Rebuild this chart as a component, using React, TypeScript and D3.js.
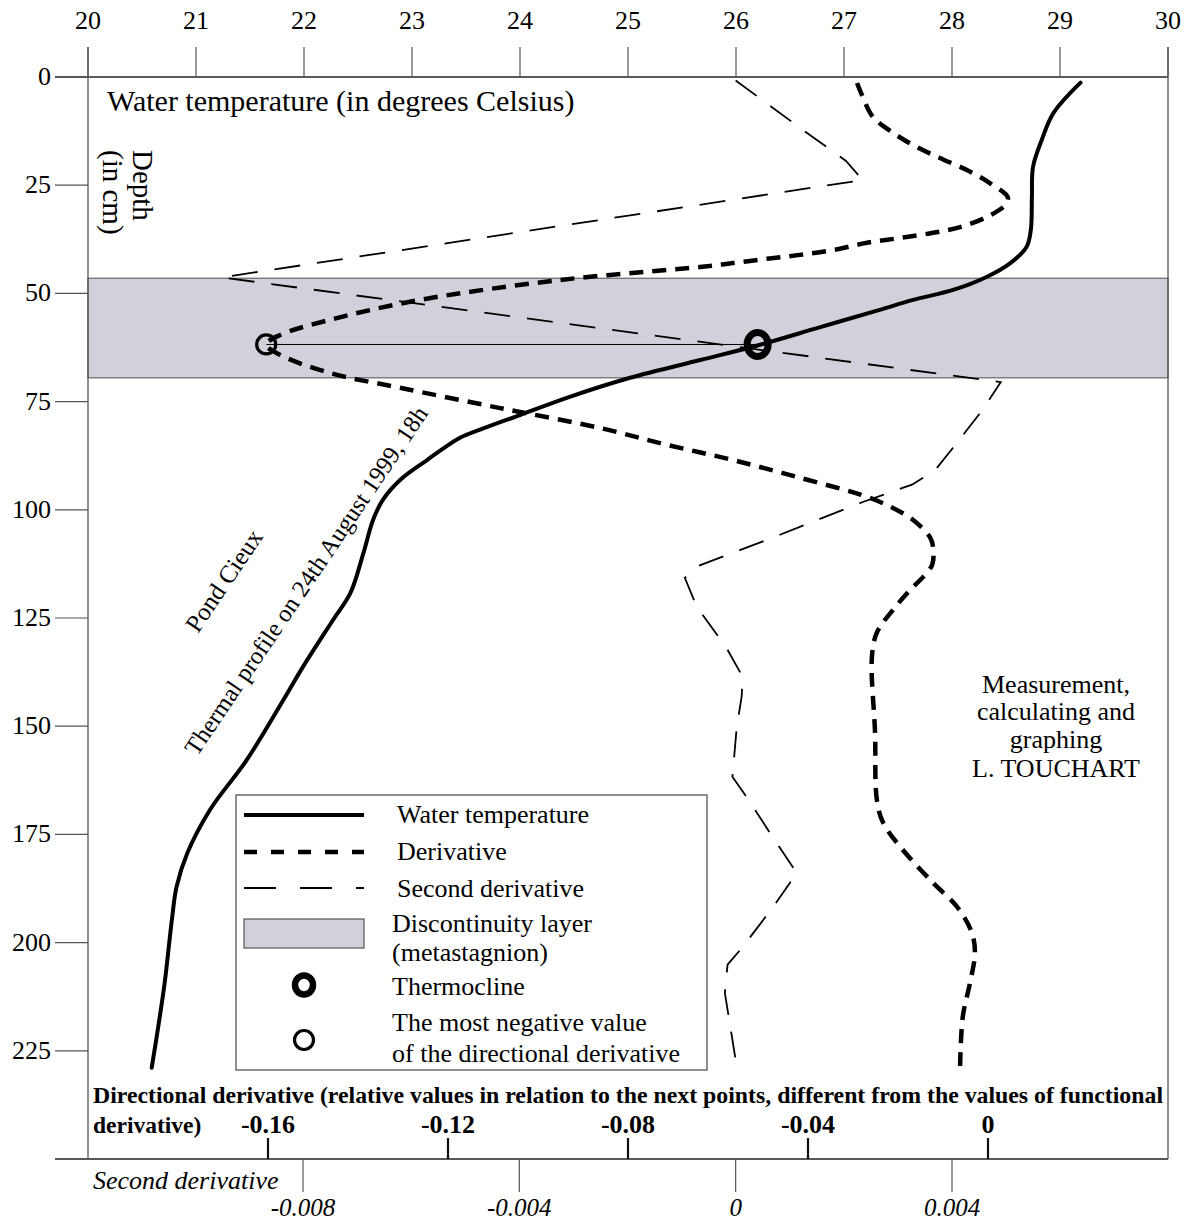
import React from "react";
import * as d3 from "d3";

// axis ticks
const tempTicks = [20, 21, 22, 23, 24, 25, 26, 27, 28, 29, 30];
const depthTicks = [0, 25, 50, 75, 100, 125, 150, 175, 200, 225];
const derivTicks = [-0.16, -0.12, -0.08, -0.04, 0];
const derivTickLabels = ["-0.16", "-0.12", "-0.08", "-0.04", "0"];
const secTicks = [-0.008, -0.004, 0, 0.004];
const secTickLabels = ["-0.008", "-0.004", "0", "0.004"];

// water temperature profile (depth in cm, degrees C)
const tempDepth = [1.3, 8.3, 14.6, 20.8, 27.7, 35.3, 39.3, 43, 46.2, 49.2, 51.5, 53.8, 57.8, 62.1, 65.4, 69.5, 73.9, 78.1, 81.5, 83.4, 88.5, 93.1, 97.7, 102.3, 110, 119.2, 125.4, 136.3, 143.9, 157.8, 169.3, 179.3, 187.1, 194, 209.3, 219.5, 228.9];
const tempValue = [29.19, 28.94, 28.83, 28.75, 28.74, 28.73, 28.69, 28.54, 28.32, 28.01, 27.64, 27.33, 26.78, 26.19, 25.67, 25.02, 24.46, 24.0, 23.63, 23.44, 23.14, 22.89, 22.73, 22.64, 22.55, 22.43, 22.27, 21.99, 21.81, 21.47, 21.13, 20.92, 20.82, 20.78, 20.71, 20.65, 20.59];

// directional derivative
const derivDepth = [1.4, 4.2, 9.2, 12.9, 16.2, 18.7, 21.5, 24.5, 27.8, 29.6, 32.3, 34.7, 36, 37.2, 38.3, 40, 41.1, 42, 43, 43.9, 46.9, 51.5, 56.1, 59.6, 61.8, 64.2, 68.4, 71.8, 76.5, 81.1, 85, 88.5, 92.6, 97, 99.6, 102.3, 106.3, 108.6, 112.7, 115.5, 118.5, 123.1, 128.4, 134, 151.5, 167, 172.3, 178.6, 186.2, 191.7, 197.7, 202.4, 209.3, 217.1, 228.5];
const derivValue = [-0.0291, -0.028, -0.0256, -0.0211, -0.0158, -0.0107, -0.0047, 0.0004, 0.0044, 0.0038, -0.0002, -0.0062, -0.0122, -0.0196, -0.0269, -0.0344, -0.0418, -0.0491, -0.0567, -0.064, -0.0951, -0.1262, -0.1462, -0.1573, -0.1604, -0.1573, -0.1462, -0.1307, -0.1084, -0.0862, -0.0713, -0.0567, -0.0418, -0.0269, -0.0211, -0.0167, -0.0129, -0.0122, -0.0124, -0.0144, -0.0173, -0.0211, -0.0247, -0.0258, -0.0251, -0.0247, -0.0233, -0.0189, -0.0122, -0.0069, -0.0036, -0.0029, -0.004, -0.0056, -0.0062];

// second derivative
const secDepth = [0.8, 12.2, 19.4, 23.8, 46.3, 70.5, 77, 86.6, 90.8, 94.2, 98.2, 107, 113, 115.7, 122.4, 131.9, 138.6, 143.2, 150.2, 161.7, 166.3, 176.3, 183.9, 191.3, 201, 205.1, 211.6, 222.5, 228.7];
const secValue = [0.0, 0.00124, 0.00204, 0.00235, -0.0095, 0.0049, 0.00456, 0.00396, 0.00369, 0.00326, 0.00235, 0.00057, -0.0007, -0.00094, -0.00072, -0.00017, 0.00013, 0.00011, 0.00002, -0.00006, 0.0002, 0.00072, 0.00113, 0.00072, 0.00013, -0.00015, -0.0002, -0.00006, 0.00002];

// discontinuity layer and markers
const layerTop = 46.5;
const layerBottom = 69.5;
const thermoDepth = 61.8;
const thermoTemp = 26.2;
const minDerivDepth = 61.8;
const minDerivValue = -0.1604;

const W = 1188;
const H = 1223;
const serif = "'Liberation Serif', 'Times New Roman', serif";
const bandFill = "#d0d1da";
const frame = "#555";

const App = () => {
	const xT = d3.scaleLinear().domain([20, 30]).range([88, 1168]);
	const yD = d3.scaleLinear().domain([0, 250]).range([77, 1159]);
	const xDer = d3.scaleLinear().domain([-0.16, 0]).range([268, 988]);
	const xSec = d3.scaleLinear().domain([-0.008, 0.004]).range([303, 952]);

	const tempPath = d3
		.line<number>()
		.x((_, i) => xT(tempValue[i]))
		.y((d) => yD(d))
		.curve(d3.curveCatmullRom.alpha(0.5))(tempDepth);

	const derivPath = d3
		.line<number>()
		.x((_, i) => xDer(derivValue[i]))
		.y((d) => yD(d))
		.curve(d3.curveCatmullRom.alpha(0.5))(derivDepth);

	const secPath = d3
		.line<number>()
		.x((_, i) => xSec(secValue[i]))
		.y((d) => yD(d))(secDepth);

	const [x0, x1] = xT.range();
	const yTop = yD(0);
	const yBot = yD(250);

	return (
		<div style={{ position: "absolute", left: 0, top: 0 }}>
			<svg width={W} height={H} style={{ display: "block", background: "#fff" }} fontFamily={serif}>
				{/* discontinuity layer */}
				<rect
					x={x0}
					y={yD(layerTop)}
					width={x1 - x0}
					height={yD(layerBottom) - yD(layerTop)}
					fill={bandFill}
					stroke="#666"
					strokeWidth={1.2}
				/>

				{/* frame */}
				<line x1={55} x2={x1} y1={yTop} y2={yTop} stroke="#222" strokeWidth={1.5} />
				<line x1={55} x2={x1} y1={yBot} y2={yBot} stroke="#222" strokeWidth={1.5} />
				<line x1={x0} x2={x0} y1={47} y2={yBot} stroke={frame} strokeWidth={1.3} />
				<line x1={x1} x2={x1} y1={47} y2={yBot} stroke={frame} strokeWidth={1.3} />

				{/* top temperature axis */}
				{tempTicks.map((t) => (
					<g key={"t" + t}>
						<line x1={xT(t)} x2={xT(t)} y1={47} y2={yTop} stroke={frame} strokeWidth={1.2} />
						<text x={xT(t)} y={29} textAnchor="middle" fontSize={26}>
							{t}
						</text>
					</g>
				))}

				{/* left depth axis */}
				{depthTicks.map((d) => (
					<g key={"d" + d}>
						<line x1={55} x2={x0} y1={yD(d)} y2={yD(d)} stroke={frame} strokeWidth={1.2} />
						<text x={51} y={yD(d) + 8} textAnchor="end" fontSize={26}>
							{d}
						</text>
					</g>
				))}

				{/* bottom directional derivative axis */}
				{derivTicks.map((v, i) => (
					<g key={"dv" + i}>
						<line x1={xDer(v)} x2={xDer(v)} y1={1138} y2={yBot} stroke="#111" strokeWidth={2.2} />
						<text x={xDer(v)} y={1133} textAnchor="middle" fontSize={26} fontWeight="bold">
							{derivTickLabels[i]}
						</text>
					</g>
				))}
				<text x={93} y={1103} fontSize={23.5} fontWeight="bold" textLength={1070} lengthAdjust="spacingAndGlyphs">
					Directional derivative (relative values in relation to the next points, different from the values of functional
				</text>
				<text x={93} y={1133} fontSize={23.5} fontWeight="bold">
					derivative)
				</text>

				{/* second derivative axis */}
				{secTicks.map((v, i) => (
					<g key={"sv" + i}>
						<line x1={xSec(v)} x2={xSec(v)} y1={yBot} y2={1192} stroke={frame} strokeWidth={1.2} />
						<text x={xSec(v)} y={1216} textAnchor="middle" fontSize={25} fontStyle="italic">
							{secTickLabels[i]}
						</text>
					</g>
				))}
				<text x={93} y={1189} fontSize={26} fontStyle="italic">
					Second derivative
				</text>

				{/* titles */}
				<text x={107} y={111} fontSize={30}>
					Water temperature (in degrees Celsius)
				</text>
				<text x={133} y={150} fontSize={29} transform="rotate(90 133 150)">
					Depth
				</text>
				<text x={103} y={150} fontSize={29} transform="rotate(90 103 150)">
					(in cm)
				</text>
				<text x={198} y={634} fontSize={25} transform="rotate(-56 198 634)">
					Pond Cieux
				</text>
				<text x={197} y={757} fontSize={24.5} transform="rotate(-56 197 757)">
					Thermal profile on 24th August 1999, 18h
				</text>
				<g fontSize={26} textAnchor="middle">
					<text x={1056} y={693}>Measurement,</text>
					<text x={1056} y={720}>calculating and</text>
					<text x={1056} y={748}>graphing</text>
					<text x={1056} y={777}>L. TOUCHART</text>
				</g>

				{/* curves */}
				<path d={secPath ?? ""} fill="none" stroke="#000" strokeWidth={1.8} strokeDasharray="26,17" />
				<path d={derivPath ?? ""} fill="none" stroke="#000" strokeWidth={4.5} strokeDasharray="14,9" />
				<path d={tempPath ?? ""} fill="none" stroke="#000" strokeWidth={4} strokeLinecap="round" />

				{/* thermocline link */}
				<line
					x1={xDer(minDerivValue)}
					x2={xT(thermoTemp)}
					y1={yD(minDerivDepth)}
					y2={yD(thermoDepth)}
					stroke="#000"
					strokeWidth={1}
				/>
				<circle cx={xDer(minDerivValue)} cy={yD(minDerivDepth)} r={9.5} fill="none" stroke="#000" strokeWidth={3.2} />
				<ellipse cx={xT(thermoTemp)} cy={yD(thermoDepth)} rx={10.5} ry={12} fill="none" stroke="#000" strokeWidth={7} />

				{/* legend */}
				<rect x={236} y={795} width={471} height={275} fill="#fff" stroke={frame} strokeWidth={1.3} />
				<line x1={244} x2={364} y1={815} y2={815} stroke="#000" strokeWidth={4} />
				<line x1={244} x2={364} y1={852} y2={852} stroke="#000" strokeWidth={4.5} strokeDasharray="13,14" />
				<line x1={244} x2={364} y1={888} y2={888} stroke="#000" strokeWidth={1.8} strokeDasharray="32,24" />
				<rect x={244} y={919} width={120} height={29} fill={bandFill} stroke="#555" strokeWidth={1.2} />
				<ellipse cx={304} cy={985} rx={9} ry={9.5} fill="none" stroke="#000" strokeWidth={6.5} />
				<circle cx={304} cy={1040} r={9.5} fill="none" stroke="#000" strokeWidth={3.2} />
				<g fontSize={26}>
					<text x={397} y={823}>Water temperature</text>
					<text x={397} y={860}>Derivative</text>
					<text x={397} y={897}>Second derivative</text>
					<text x={392} y={932}>Discontinuity layer</text>
					<text x={392} y={961}>(metastagnion)</text>
					<text x={392} y={995}>Thermocline</text>
					<text x={392} y={1031}>The most negative value</text>
					<text x={392} y={1062}>of the directional derivative</text>
				</g>
			</svg>
		</div>
	);
};

export default App;
